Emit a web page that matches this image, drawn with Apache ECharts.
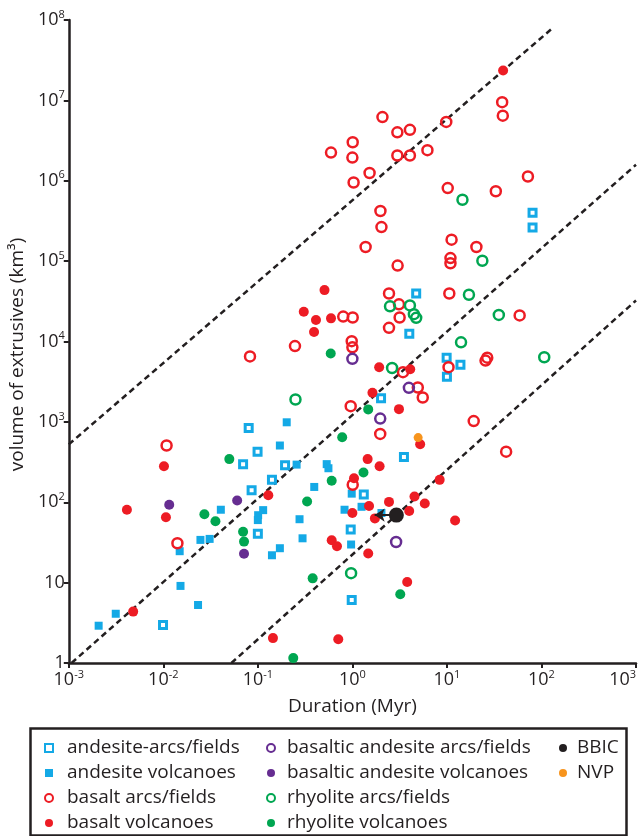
<!DOCTYPE html>
<html>
<head>
<meta charset="utf-8">
<script src="https://cdn.jsdelivr.net/npm/echarts@6/dist/echarts.min.js"></script>
<style>html,body{margin:0;padding:0;background:#fff}#chart{width:639px;height:836px}</style>
</head>
<body>
<div id="chart"></div>
<script>
// duration (Myr) vs volume (km3)
const andesiteArcs = [[0.00993,2.98],[0.080,837],[0.0993,426],[0.0698,298],[0.0859,141],[0.100,40.6],[0.141,190],[0.194,288],
  [80.5,4.0e5],[80.5,2.62e5],[4.73,3.96e4],[4.0,1.25e4],[9.93,6300],[13.9,5140],[10.0,3650],[2.01,1970],[3.51,365],[1.32,125],[0.96,45.7],[0.984,6.08]];
const andesiteVolc = [[0.00207,2.91],[0.00314,4.1],[0.0149,24.6],[0.0152,9.1],[0.0233,5.27],[0.0247,34],[0.0309,35],[0.0406,80.7],
  [0.1007,69],[0.1,60],[0.1138,79.8],[0.141,21.9],[0.171,26.8],[0.171,508],[0.202,988],[0.257,294],[0.276,61.5],[0.297,35.6],
  [0.395,155],[0.535,298],[0.558,265],[0.826,80.7],[0.984,128],[1.25,87.8],[2.03,73.5],[0.969,29.8]];
const basaltArcs = [[0.01083,508],[0.0141,30.9],[0.0826,6520],[0.247,8770],[0.594,2.24e6],[0.8,20400],
  [1.008,3.01e6],[1.0,1.94e6],[1.03,9.5e5],[2.08,6.2e6],[2.99,4.0e6],[4.06,4.3e6],[2.99,2.06e6],[4.06,2.06e6],[6.22,2.4e6],
  [9.84,5.4e6],[38.4,9.5e6],[39,6.45e6],[1.52,1.25e6],[1.98,4.2e5],[2.03,2.65e5],[1.38,1.5e5],[3.01,8.8e4],[10.2,8.1e5],
  [32.9,7.4e5],[71.9,1.13e6],[11.2,1.85e5],[20.5,1.5e5],[10.9,1.09e5],[10.9,9.4e4],[10.6,3.96e4],[2.44,3.96e4],[3.11,2.9e4],
  [3.16,1.99e4],[2.44,1.48e4],[1.008,1.99e4],[0.984,1.01e4],[1.0,8470],[0.96,1570],[3.43,4150],[4.92,2680],[5.55,2010],
  [1.97,709],[1.008,165],[10.4,4790],[25.6,5790],[26.7,6300],[58.8,2.11e4],[19.2,1024],[42.3,426]];
const basaltVolc = [[0.00412,80.7],[0.01016,281],[0.01066,65.2],[0.0048,4.36],[0.129,122],[0.1445,2.04],[0.306,23500],
  [0.412,18500],[0.393,13100],[0.507,43600],[0.594,19400],[0.604,33.6],[0.687,28.4],[0.709,1.97],
  [39.3,2.35e7],[1.92,4790],[4.09,4510],[1.63,2300],[3.11,1440],[5.21,527],[1.45,344],[1.94,281],[1.04,199],[8.38,190],
  [1.5,89.9],[2.44,101],[4.54,118],[5.83,96.5],[1.0,73.5],[1.73,63],[3.99,78],[12.2,59.3],[1.47,23],[3.8,10.2]];
const basAndesiteArcs = [[1.0,6080],[3.96,2650],[1.97,1100],[2.9,32]];
const basAndesiteVolc = [[0.01155,93],[0.0604,105],[0.0714,22.9]];
const rhyoliteArcs = [[0.25,1900],[0.969,13.1],[14.6,5.8e5],[23.7,1.01e5],[17.1,3.82e4],[2.5,2.74e4],[4.06,2.81e4],
  [4.47,2.19e4],[4.73,1.97e4],[35.4,2.14e4],[14.1,9770],[107,6370],[2.63,4680]];
const rhyoliteVolc = [[0.0272,70.9],[0.0356,57.9],[0.0499,344],[0.0698,43],[0.0714,32.4],[0.237,1.15],[0.332,102],
  [0.38,11.3],[0.59,7090],[0.604,185],[0.78,645],[1.47,1430],[1.31,235],[3.21,7.18]];
const bbic = [[2.92,69.2]];
const bbicArrowTo = 1.72;
const nvp = [[4.96,637]];
// dashed reference lines (end points)
const guideLines = [
  [[0.001,525],[129,7.8e7]],
  [[0.00107,1],[1000,1.58e6]],
  [[0.0525,1],[1000,3.24e4]]
];

const ink = '#231f20';
const font = 'Open Sans';

function openMark(name, data, symbol, color, size, bw) {
  return { name: name, type: 'scatter', data: data, symbol: symbol, symbolSize: size,
    itemStyle: { color: 'rgba(255,255,255,0)', borderColor: color, borderWidth: bw, opacity: 1 } };
}
function filledMark(name, data, symbol, color, size) {
  return { name: name, type: 'scatter', data: data, symbol: symbol, symbolSize: size,
    itemStyle: { color: color, opacity: 1 } };
}

function powLabel(v, plainSmall) {
  const e = Math.round(Math.log10(v));
  if (plainSmall && e === 0) return '{b|1}';
  if (plainSmall && e === 1) return '{b|10}';
  return '{b|10}{s|' + e + '}';
}
const rich = {
  b: { fontFamily: font, fontSize: 18, color: ink, lineHeight: 22 },
  s: { fontFamily: font, fontSize: 11, color: ink, lineHeight: 11, verticalAlign: 'top' }
};

const chart = echarts.init(document.getElementById('chart'));

const series = [
  openMark('andesite-arcs/fields', andesiteArcs, 'rect', '#14a9e6', 7, 3),
  filledMark('andesite volcanoes', andesiteVolc, 'rect', '#14a9e6', 8),
  openMark('basalt arcs/fields', basaltArcs, 'circle', '#ed1c24', 10, 2.5),
  filledMark('basalt volcanoes', basaltVolc, 'circle', '#ed1c24', 10),
  openMark('basaltic andesite arcs/fields', basAndesiteArcs, 'circle', '#662d91', 10, 2.5),
  filledMark('basaltic andesite volcanoes', basAndesiteVolc, 'circle', '#662d91', 10),
  openMark('rhyolite arcs/fields', rhyoliteArcs, 'circle', '#00a651', 10, 2.5),
  filledMark('rhyolite volcanoes', rhyoliteVolc, 'circle', '#00a651', 10),
  filledMark('NVP', nvp, 'circle', '#f7941d', 9),
  {
    name: 'BBIC', type: 'scatter', data: bbic, symbol: 'circle', symbolSize: 15, z: 5,
    itemStyle: { color: ink, opacity: 1 },
    markLine: {
      silent: true, symbol: ['none', 'arrow'], symbolSize: [10, 10], label: { show: false },
      lineStyle: { color: ink, width: 2, type: 'solid', opacity: 1 },
      data: [[{ coord: bbic[0] }, { coord: [bbicArrowTo, bbic[0][1]] }]]
    }
  }
];
guideLines.forEach(function (pts) {
  series.push({ type: 'line', data: pts, symbol: 'none', silent: true, z: 1,
    lineStyle: { color: ink, width: 2.5, type: [6, 4] } });
});

const legendText = { fontFamily: font, fontSize: 19, color: ink, lineHeight: 20 };
function legendCol(left, pad, names) {
  return { orient: 'vertical', left: left, top: 733, height: 120, itemWidth: 8, itemHeight: 8, itemGap: 5,
    textStyle: Object.assign({ padding: [0, 0, 0, pad] }, legendText), data: names };
}

chart.setOption({
  backgroundColor: '#fff',
  animation: false,
  grid: { left: 64, right: 3, top: 20, bottom: 173 },
  xAxis: {
    type: 'log', logBase: 10, min: 0.001, max: 1000, interval: 1,
    name: 'Duration (Myr)', nameLocation: 'middle', nameGap: 34,
    nameTextStyle: { fontFamily: font, fontSize: 19, color: ink },
    axisLine: { lineStyle: { color: ink, width: 2.5 } },
    axisTick: { show: true, length: 5, lineStyle: { color: ink, width: 2 } },
    minorTick: { show: false }, splitLine: { show: false },
    axisLabel: { margin: 6, formatter: function (v) { return powLabel(v, false); }, rich: rich, alignMaxLabel: 'right' }
  },
  yAxis: {
    type: 'log', logBase: 10, min: 1, max: 1e8, interval: 1,
    name: 'volume of extrusives (km\u00b3)', nameLocation: 'middle', nameGap: 40,
    nameTextStyle: { fontFamily: font, fontSize: 19, color: ink, padding: [0, 26, 0, 0] },
    axisLine: { lineStyle: { color: ink, width: 2.5 } },
    axisTick: { show: true, length: 5, lineStyle: { color: ink, width: 2 } },
    minorTick: { show: false }, splitLine: { show: false },
    axisLabel: { margin: 4, formatter: function (v) { return powLabel(v, true); }, rich: rich }
  },
  legend: [
    legendCol(39, 9, ['andesite-arcs/fields', 'andesite volcanoes', 'basalt arcs/fields', 'basalt volcanoes']),
    legendCol(261, 7, ['basaltic andesite arcs/fields', 'basaltic andesite volcanoes', 'rhyolite arcs/fields', 'rhyolite volcanoes']),
    legendCol(554, 5, ['BBIC', 'NVP'])
  ],
  graphic: [{
    type: 'rect', left: 28, top: 726, silent: true,
    shape: { width: 596, height: 107 },
    style: { fill: 'none', stroke: ink, lineWidth: 2.5 }
  }],
  series: series
});
</script>
</body>
</html>
